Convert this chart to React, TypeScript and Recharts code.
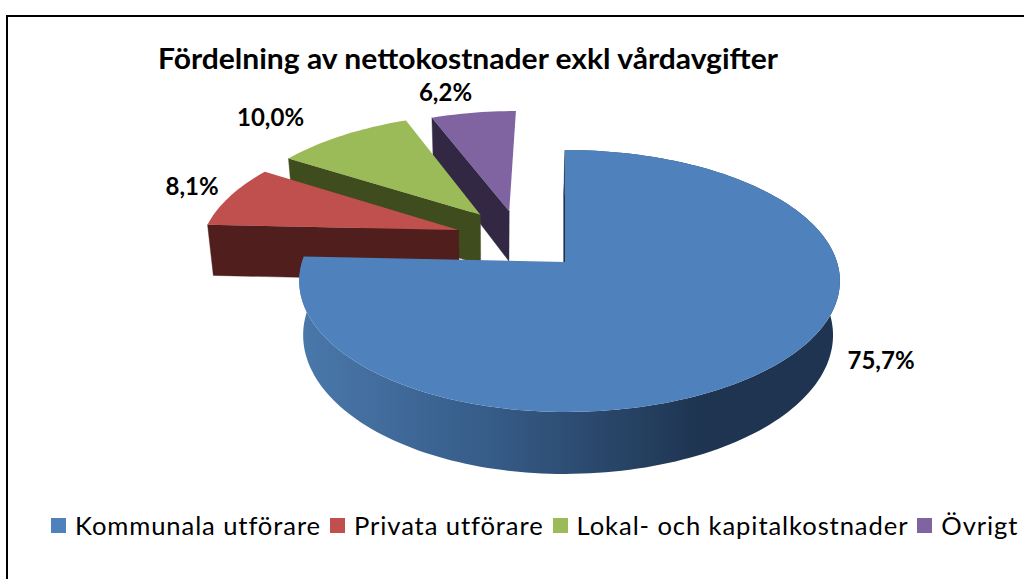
import React from 'react';
import { PieChart, Pie, Cell, Legend } from 'recharts';

const categories = ['Kommunala utförare', 'Privata utförare', 'Lokal- och kapitalkostnader', 'Övrigt'];
const shares = [75.7, 8.1, 10.0, 6.2];
const title = 'Fördelning av nettokostnader exkl vårdavgifter';

const faceColors = ['#4f81bd', '#c0504d', '#9bbb59', '#8064a2'];
const wallColors = ['#1e3450', '#4f1e1d', '#3f4c1e', '#332843'];
// explosion of each slice in the plane of the pie, in radii
const explode = [[0, 0], [-0.42, 0.26], [-0.34, 0.39], [-0.225, 0.42]];
// label distance from the slice's rim, in pixels
const labelNudge = [[106, -6], [-38, -10.5], [-72, -19], [-28, -21]];

// Drawn counter-clockwise from 12 o'clock, so the big front slice is painted last.
const table = categories
  .map((name, i) => ({ name, value: shares[i], idx: i }))
  .reverse();

const FONT = 'Lato, Carlito, Calibri, sans-serif';
const P = 0.145;

function projector(cx: number, cy: number, R: number) {
  const rxR = R;
  const rxL = (R * 263) / 272;
  const ry = (R * 128.2) / 272;
  const depth = (R * 53) / 272;
  const vanishX = cx - (R * 69) / 272;
  return (u: number, v: number, low: boolean) => {
    const w = 1 + P * v;
    let X = cx + ((u < 0 ? rxL : rxR) * u) / w;
    let Y = cy - (ry * v) / w;
    if (low) {
      X += (vanishX - X) * 0.02;
      Y += depth / w;
    }
    return [X, Y];
  };
}

function toPath(points: number[][]) {
  return points.map((p, i) => `${i ? 'L' : 'M'}${p[0].toFixed(2)} ${p[1].toFixed(2)}`).join(' ') + ' Z';
}

function Slice3D(props: any) {
  const { cx, cy, outerRadius, startAngle, endAngle, payload } = props;
  const idx = payload?.idx ?? props.idx;
  const [ou, ov] = explode[idx];
  const proj = projector(cx, cy, outerRadius);
  const a0 = Math.min(startAngle, endAngle);
  const a1 = Math.max(startAngle, endAngle);
  const steps = Math.max(8, Math.round((a1 - a0) / 1.5));
  const rimAngles: number[] = [];
  for (let i = 0; i <= steps; i++) rimAngles.push(a0 + ((a1 - a0) * i) / steps);
  const pt = (a: number, low: boolean) => {
    const r = (a * Math.PI) / 180;
    return proj(Math.cos(r) + ou, Math.sin(r) + ov, low);
  };
  const apexTop = proj(ou, ov, false);
  const apexLow = proj(ou, ov, true);
  const rimTop = rimAngles.map((a) => pt(a, false));
  const rimLow = rimAngles.map((a) => pt(a, true));
  const wall = wallColors[idx];
  return (
    <g>
      <path d={toPath([apexTop, pt(a1, false), pt(a1, true), apexLow])} fill={wall} stroke={wall} strokeWidth={0.4} />
      {idx === 0 && <path d={toPath([...rimTop, ...rimLow.slice().reverse()])} fill="url(#blueRim)" />}
      <path d={toPath([apexTop, ...rimTop])} fill={faceColors[idx]} />
    </g>
  );
}

function renderLabel(props: any) {
  const { cx, cy, outerRadius, midAngle, payload, value } = props;
  const idx = payload?.idx ?? 0;
  const proj = projector(cx, cy, outerRadius);
  const r = (midAngle * Math.PI) / 180;
  const [x, y] = proj(Math.cos(r) + explode[idx][0], Math.sin(r) + explode[idx][1], false);
  return (
    <text
      x={x + labelNudge[idx][0]}
      y={y + labelNudge[idx][1]}
      textAnchor="middle"
      dominantBaseline="central"
      fontFamily={FONT}
      fontWeight={700}
      fontSize={24}
      fill="#000"
    >
      {Number(value).toFixed(1).replace('.', ',')}%
    </text>
  );
}

function LegendRow() {
  return (
    <div
      style={{
        display: 'flex',
        alignItems: 'center',
        paddingLeft: 51,
        fontFamily: FONT,
        fontSize: 25.6,
        letterSpacing: 0.9,
        color: '#000',
        whiteSpace: 'nowrap',
      }}
    >
      {categories.map((c, i) => (
        <span key={c} style={{ display: 'inline-flex', alignItems: 'center', marginRight: 9 }}>
          <span style={{ width: 15, height: 15, background: faceColors[i], marginRight: 9 }} />
          {c}
        </span>
      ))}
    </div>
  );
}

export default function App() {
  return (
    <div style={{ position: 'absolute', left: 0, top: 0, width: 1024, height: 579, background: '#fff', overflow: 'hidden' }}>
      <div
        style={{
          position: 'absolute',
          left: 6,
          top: 15,
          right: -5,
          bottom: -5,
          borderTop: '2.5px solid #000',
          borderLeft: '2.5px solid #000',
        }}
      />
      <PieChart width={1024} height={579} margin={{ top: 0, right: 0, bottom: 0, left: 0 }} style={{ position: 'absolute', left: 0, top: 0 }}>
        <defs>
          <linearGradient id="blueRim" gradientUnits="userSpaceOnUse" x1="300" y1="0" x2="840" y2="0">
            <stop offset="0" stopColor="#4a78ab" />
            <stop offset="0.35" stopColor="#365c88" />
            <stop offset="0.75" stopColor="#1e3450" />
            <stop offset="1" stopColor="#1e3450" />
          </linearGradient>
        </defs>
        <text
          x={468}
          y={57}
          textAnchor="middle"
          dominantBaseline="central"
          fontFamily={FONT}
          fontWeight={700}
          fontSize={29}
          textLength={620}
          lengthAdjust="spacingAndGlyphs"
          fill="#000"
        >
          {title}
        </text>
        <Pie
          data={table}
          dataKey="value"
          nameKey="name"
          cx={565}
          cy={262}
          innerRadius={0}
          outerRadius={272}
          startAngle={90}
          endAngle={450}
          stroke="none"
          isAnimationActive={false}
          shape={Slice3D}
          activeShape={Slice3D}
          inactiveShape={Slice3D}
          label={renderLabel}
          labelLine={false}
        >
          {table.map((d) => (
            <Cell key={d.name} fill={faceColors[d.idx]} />
          ))}
        </Pie>
        <Legend content={LegendRow} wrapperStyle={{ left: 0, top: 510, width: 1024, position: 'absolute' }} />
      </PieChart>
    </div>
  );
}
